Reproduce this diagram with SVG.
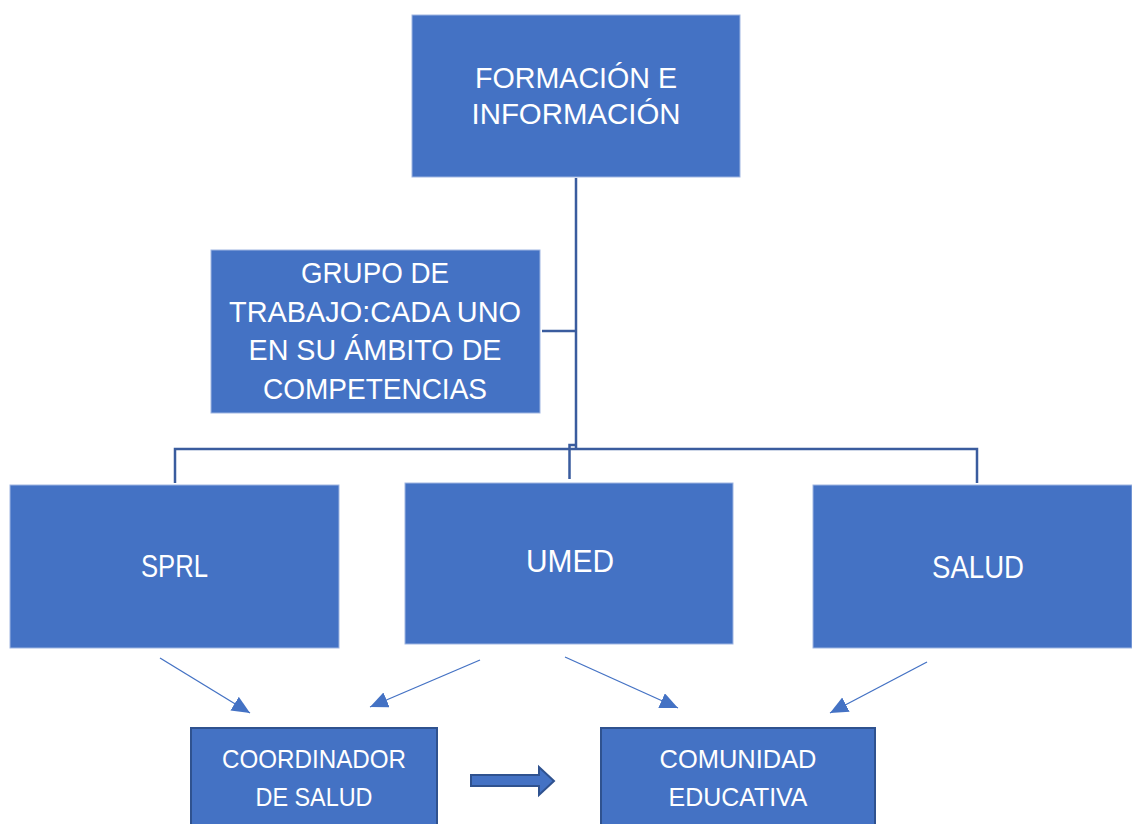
<svg xmlns="http://www.w3.org/2000/svg" width="1132" height="824" viewBox="0 0 1132 824">
<style>
.box{fill:#4472C4;stroke:#9FB6E2;stroke-width:1}
.box2{fill:#4472C4;stroke:#2F528F;stroke-width:2}
.t{fill:#FFFFFF;font-family:"Liberation Sans",Arial,sans-serif;text-anchor:middle;lengthAdjust:spacingAndGlyphs}
.big{font-size:30px}
.mid{font-size:31px}
.sm{font-size:25.5px}
.tree{fill:none;stroke:#3A5C9E;stroke-width:2.5}
.thin{fill:none;stroke:#4472C4;stroke-width:1.3;marker-end:url(#ah)}
</style>
<defs>
<marker id="ah" markerUnits="userSpaceOnUse" markerWidth="20" markerHeight="18" refX="18" refY="8" orient="auto">
<path d="M0,0 L18,8 L0,16 Z" fill="#4472C4"/>
</marker>
</defs>
<rect width="1132" height="824" fill="#FFFFFF"/>
<g id="connectors">
<path class="tree" d="M576,178 V449"/>
<path class="tree" d="M542,331 H576"/>
<path class="tree" d="M175,483 V449 H977 V483"/>
<path class="tree" d="M576,445 H569.5 V479"/>
<line class="thin" x1="160" y1="658" x2="250" y2="713"/>
<line class="thin" x1="480" y1="660" x2="370" y2="707"/>
<line class="thin" x1="565" y1="657" x2="678" y2="708"/>
<line class="thin" x1="927" y1="662" x2="830" y2="713"/>
<path d="M471,775 H539 V767 L554,781 L539,795 V786 H471 Z" fill="#4472C4" stroke="#2F528F" stroke-width="2"/>
</g>
<g id="formacion">
<rect class="box" x="412" y="15" width="328" height="162"/>
<text class="t big" x="576" y="88" textLength="202" lengthAdjust="spacingAndGlyphs">FORMACIÓN E</text>
<text class="t big" x="576" y="124" textLength="209" lengthAdjust="spacingAndGlyphs">INFORMACIÓN</text>
</g>
<g id="grupo">
<rect class="box" x="211" y="250" width="329" height="163"/>
<text class="t big" x="375" y="283" textLength="148" lengthAdjust="spacingAndGlyphs">GRUPO DE</text>
<text class="t big" x="375" y="322" textLength="292" lengthAdjust="spacingAndGlyphs">TRABAJO:CADA UNO</text>
<text class="t big" x="375" y="360" textLength="253" lengthAdjust="spacingAndGlyphs">EN SU ÁMBITO DE</text>
<text class="t big" x="375" y="399" textLength="224" lengthAdjust="spacingAndGlyphs">COMPETENCIAS</text>
</g>
<g id="sprl">
<rect class="box" x="10" y="485" width="329" height="163"/>
<text class="t mid" x="174.5" y="577" textLength="67" lengthAdjust="spacingAndGlyphs">SPRL</text>
</g>
<g id="umed">
<rect class="box" x="405" y="483" width="328" height="161"/>
<text class="t mid" x="570" y="572" textLength="88" lengthAdjust="spacingAndGlyphs">UMED</text>
</g>
<g id="salud">
<rect class="box" x="813" y="485" width="319" height="163"/>
<text class="t mid" x="978" y="578" textLength="92" lengthAdjust="spacingAndGlyphs">SALUD</text>
</g>
<g id="coordinador">
<rect class="box2" x="191" y="728" width="246" height="110"/>
<text class="t sm" x="314" y="768" textLength="184" lengthAdjust="spacingAndGlyphs">COORDINADOR</text>
<text class="t sm" x="314" y="806" textLength="117" lengthAdjust="spacingAndGlyphs">DE SALUD</text>
</g>
<g id="comunidad">
<rect class="box2" x="601" y="728" width="274" height="110"/>
<text class="t sm" x="738" y="768" textLength="157" lengthAdjust="spacingAndGlyphs">COMUNIDAD</text>
<text class="t sm" x="738" y="806" textLength="139" lengthAdjust="spacingAndGlyphs">EDUCATIVA</text>
</g>
</svg>
